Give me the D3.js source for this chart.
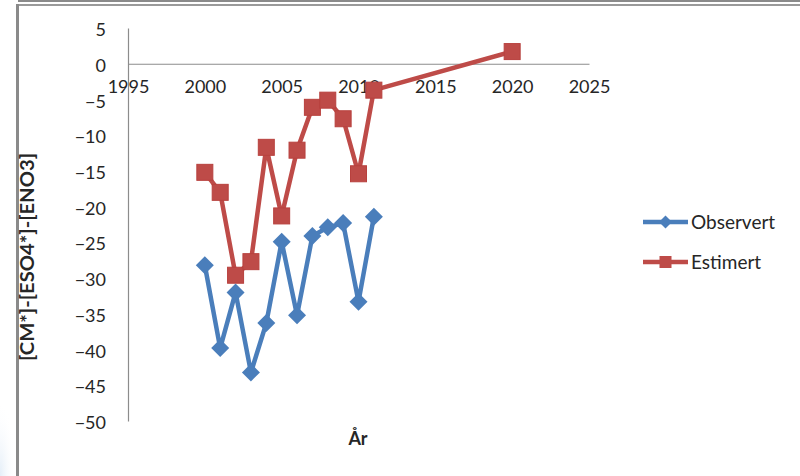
<!DOCTYPE html>
<html>
<head>
<meta charset="utf-8">
<script src="https://cdn.jsdelivr.net/npm/d3@7"></script>
<style>
  html, body { margin: 0; padding: 0; background: #fff; }
  svg { display: block; }
  text { font-family: Lato, "Open Sans", "Liberation Sans", sans-serif; fill: #262626; }
</style>
</head>
<body>
<svg id="chart" width="800" height="476"></svg>
<script>
// Measured and estimated [CM*]-[ESO4*]-[ENO3] per year
const obsYears = [2000, 2001, 2002, 2003, 2004, 2005, 2006, 2007, 2008, 2009, 2010, 2011];
const observert = [-28.2, -39.8, -32.0, -43.2, -36.3, -24.9, -35.2, -24.1, -22.9, -22.3, -33.3, -21.4];
const estYears = [2000, 2001, 2002, 2003, 2004, 2005, 2006, 2007, 2008, 2009, 2010, 2011, 2020];
const estimert = [-15.2, -18.0, -29.6, -27.7, -11.7, -21.3, -12.1, -6.1, -5.1, -7.7, -15.4, -3.7, 1.7];
const xTicks = [1995, 2000, 2005, 2010, 2015, 2020, 2025];
const yTicks = [5, 0, -5, -10, -15, -20, -25, -30, -35, -40, -45, -50];
const seriesNames = ["Observert", "Estimert"];

const blue = "#4A7EBB";
const red = "#BE4B48";
const axisGray = "#8C8C8C";

const svg = d3.select("#chart");

// outer frame of the chart object
svg.append("rect").attr("x", 18).attr("y", 0).attr("width", 782).attr("height", 2).attr("fill", "#8a8a8a");
svg.append("rect").attr("x", 18).attr("y", 4).attr("width", 782).attr("height", 2).attr("fill", "#9a9a9a");
svg.append("rect").attr("x", 16).attr("y", 4).attr("width", 3).attr("height", 472).attr("fill", "#8a8a8a");
const grad = svg.append("defs").append("radialGradient").attr("id", "corner")
  .attr("cx", 0).attr("cy", 1).attr("r", 1);
grad.append("stop").attr("offset", 0).attr("stop-color", "#e4eef8");
grad.append("stop").attr("offset", 1).attr("stop-color", "#ffffff").attr("stop-opacity", 0);
svg.append("rect").attr("x", 0).attr("y", 400).attr("width", 16).attr("height", 76).attr("fill", "url(#corner)");

const x = d3.scaleLinear().domain([1995, 2025]).range([128, 589]);
const y = d3.scaleLinear().domain([-50, 5]).range([421, 28]);

// y axis
const yAxis = svg.append("g").attr("transform", `translate(${x(1995)},0)`)
  .call(d3.axisLeft(y).tickValues(yTicks).tickSize(0).tickPadding(22).tickFormat(d3.format("d")));
yAxis.select(".domain").attr("stroke", axisGray).attr("stroke-width", 1.2);
yAxis.selectAll("text").attr("font-size", 18).attr("dy", "0.42em")
  .style("font-family", "Lato, 'Open Sans', sans-serif").attr("fill", "#1f1f1f");

// x axis crossing at zero
const xAxis = svg.append("g").attr("transform", `translate(0,${y(0)})`)
  .call(d3.axisBottom(x).tickValues(xTicks).tickSize(0).tickPadding(17).tickFormat(d3.format("d")));
xAxis.select(".domain").attr("stroke", axisGray).attr("stroke-width", 1.2);
xAxis.selectAll("text").attr("font-size", 18)
  .style("font-family", "Lato, 'Open Sans', sans-serif").attr("fill", "#1f1f1f");

// axis titles
svg.append("text")
  .attr("transform", `translate(34,257) rotate(-90)`)
  .attr("text-anchor", "middle")
  .attr("font-size", 19).attr("font-weight", "bold")
  .attr("textLength", 208).attr("lengthAdjust", "spacingAndGlyphs")
  .attr("fill", "#000")
  .text("[CM*]-[ESO4*]-[ENO3]");
svg.append("text")
  .attr("x", 358).attr("y", 445)
  .attr("text-anchor", "middle")
  .attr("font-size", 18).attr("font-weight", "bold")
  .attr("fill", "#000")
  .text("År");

const line = d3.line().x(d => x(d[0])).y(d => y(d[1]));
const obsData = obsYears.map((yr, i) => [yr, observert[i]]);
const estData = estYears.map((yr, i) => [yr, estimert[i]]);

// Estimert series
svg.append("path").datum(estData).attr("d", line)
  .attr("fill", "none").attr("stroke", red).attr("stroke-width", 4.5).attr("stroke-linejoin", "round");
svg.selectAll(".sq").data(estData).enter().append("rect")
  .attr("x", d => x(d[0]) - 8).attr("y", d => y(d[1]) - 8)
  .attr("width", 16).attr("height", 16)
  .attr("fill", red).attr("stroke", "#B8413E").attr("stroke-width", 1);

// Observert series
const diamond = (cx, cy, r) => `M${cx},${cy - r}L${cx + r},${cy}L${cx},${cy + r}L${cx - r},${cy}Z`;
svg.append("path").datum(obsData).attr("d", line)
  .attr("fill", "none").attr("stroke", blue).attr("stroke-width", 4.5).attr("stroke-linejoin", "round");
svg.selectAll(".dm").data(obsData).enter().append("path")
  .attr("d", d => diamond(x(d[0]), y(d[1]), 9))
  .attr("fill", blue);

// legend
const legend = svg.append("g");
const legY = [222, 262];
const colors = [blue, red];
seriesNames.forEach((name, i) => {
  legend.append("line").attr("x1", 643).attr("x2", 688).attr("y1", legY[i]).attr("y2", legY[i])
    .attr("stroke", colors[i]).attr("stroke-width", 4.5);
  if (i === 0) {
    legend.append("path").attr("d", diamond(665.5, legY[i], 6.5)).attr("fill", colors[i]);
  } else {
    legend.append("rect").attr("x", 659.5).attr("y", legY[i] - 6).attr("width", 12).attr("height", 12)
      .attr("fill", colors[i]);
  }
  legend.append("text").attr("x", 691).attr("y", legY[i]).attr("dy", "0.36em")
    .attr("font-size", 19).text(name);
});
</script>
</body>
</html>
